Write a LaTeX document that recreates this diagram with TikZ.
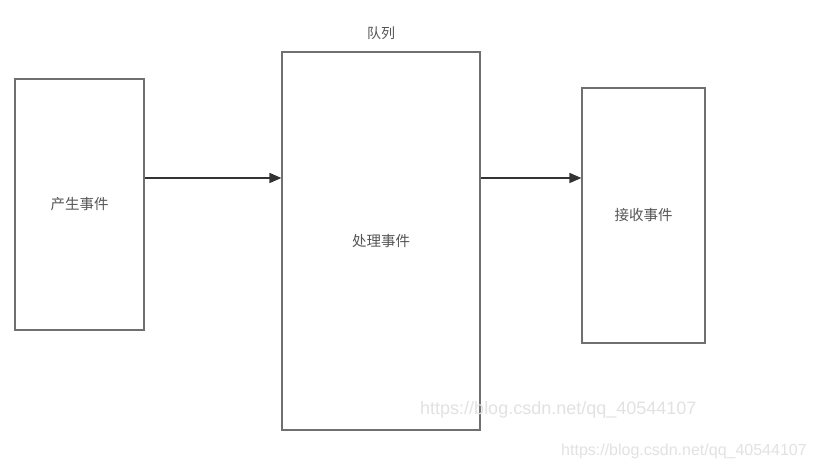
\documentclass[tikz,border=0pt]{standalone}
\usepackage{fontspec}
\setmainfont{Liberation Sans}
\newfontfamily\cjk{Noto Sans CJK SC}
\usetikzlibrary{arrows.meta}
\definecolor{boxline}{HTML}{707070}
\definecolor{arrline}{HTML}{333333}
\definecolor{txtgray}{HTML}{555555}
\definecolor{markgray}{HTML}{E2E2E2}
\tikzset{
  stage/.style={draw=boxline, line width=1.2pt, fill=white, inner sep=0pt,
    font=\cjk\fontsize{14.5}{16}\selectfont, text=txtgray},
  flow/.style={line width=1.6pt, color=arrline, -{Triangle[length=12pt,width=10pt]}},
  wmark/.style={font=\fontsize{18}{20}\selectfont, text=markgray, inner sep=0pt}
}
\begin{document}
\begin{tikzpicture}[x=1pt,y=1pt]
\useasboundingbox[fill=white] (0,0) rectangle (813,470);
% boxes
\node[stage, minimum width=129pt, minimum height=251pt] (lbox) at (79.5,265.5) {产生事件};
\node[stage, minimum width=198pt, minimum height=378pt] (mbox) at (381,229) {处理事件};
\node[stage, minimum width=123pt, minimum height=255pt] (rbox) at (643.5,254.5) {接收事件};
\node[font=\cjk\fontsize{14}{16}\selectfont, text=txtgray] (qlabel) at (381,437) {队列};
% arrows
\draw[flow] ([yshift=26.5pt]lbox.east) coordinate (s1) -- (mbox.west |- s1);
\draw[flow] ([yshift=63pt]mbox.east) coordinate (s2) -- (rbox.west |- s2);
% watermarks
\node[wmark, anchor=west] (wm1) at (420,60) {https://blog.csdn.net/qq\_40544107};
\node[wmark, anchor=west, font=\fontsize{16}{18}\selectfont] (wm2) at (561,19) {https://blog.csdn.net/qq\_40544107};
\end{tikzpicture}
\end{document}
